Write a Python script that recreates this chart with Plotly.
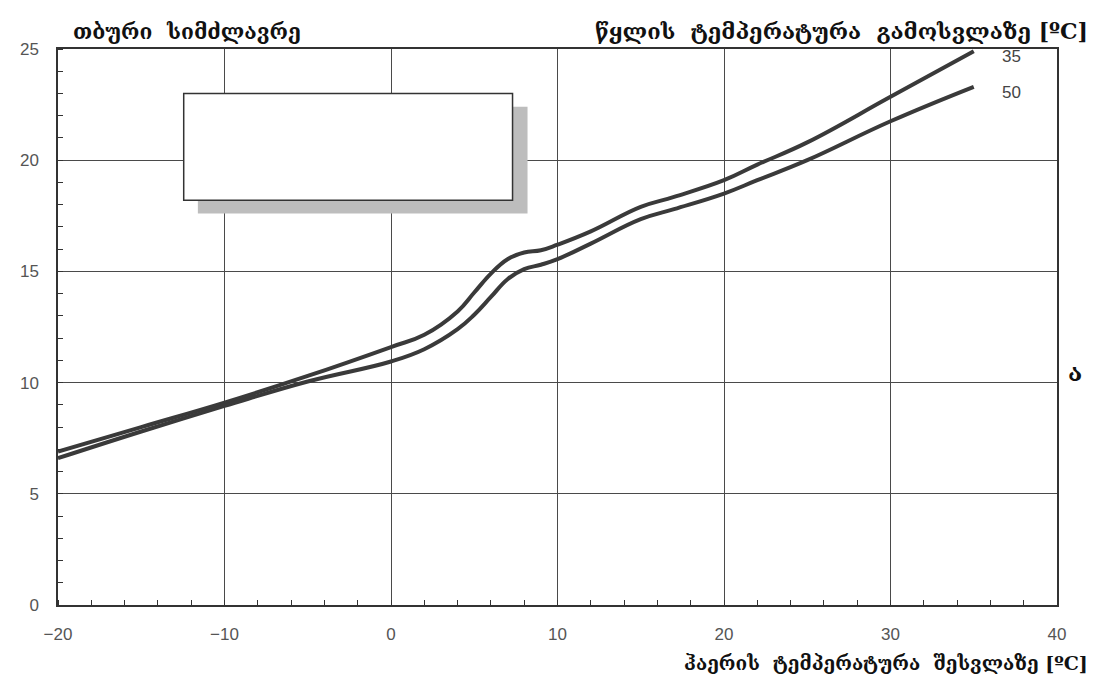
import plotly.graph_objects as go

# Air inlet temperature [°C]
x_35 = [-20, -15, -10, -5, 0, 2, 4, 5, 6, 7, 8, 9, 10, 12, 15, 17, 20, 22, 25, 30, 35]
y_35 = [6.9, 8.0, 9.1, 10.3, 11.6, 12.15, 13.2, 14.05, 14.9, 15.55, 15.85, 15.95, 16.2, 16.8, 17.9, 18.35, 19.1, 19.8, 20.8, 22.85, 24.9]

x_50 = [-20, -15, -10, -5, 0, 2, 4, 5, 6, 7, 8, 9, 10, 12, 15, 17, 20, 22, 25, 30, 35]
y_50 = [6.6, 7.8, 8.95, 10.05, 10.95, 11.5, 12.4, 13.05, 13.85, 14.65, 15.1, 15.3, 15.55, 16.25, 17.35, 17.8, 18.5, 19.1, 20.0, 21.75, 23.3]

series_labels = ["35", "50"]
x_ticks = [-20, -10, 0, 10, 20, 30, 40]
y_ticks = [0, 5, 10, 15, 20, 25]

title_left = "თბური&nbsp; სიმძლავრე"
title_right = "წყლის&nbsp; ტემპერატურა&nbsp; გამოსვლაზე [ºC]"
x_title = "ჰაერის&nbsp; ტემპერატურა&nbsp; შესვლაზე [ºC]"
side_label = "ა"

geo_font = "DejaVu Serif, DejaVu Sans, serif"
line_col = "#3a3a3a"

fig = go.Figure()
for xs, ys, name in [(x_35, y_35, series_labels[0]), (x_50, y_50, series_labels[1])]:
    fig.add_trace(go.Scatter(x=xs, y=ys, mode="lines", name=name,
                             line=dict(color=line_col, width=4, shape="spline", smoothing=1.2),
                             showlegend=False, hoverinfo="skip"))

# Series labels at line ends
fig.add_annotation(x=x_35[-1], y=y_35[-1], text=series_labels[0], showarrow=False,
                   xanchor="left", yanchor="middle", xshift=26, yshift=-5,
                   font=dict(family="Liberation Sans, Arial", size=17, color="#444"))
fig.add_annotation(x=x_50[-1], y=y_50[-1], text=series_labels[1], showarrow=False,
                   xanchor="left", yanchor="middle", xshift=26, yshift=-6,
                   font=dict(family="Liberation Sans, Arial", size=17, color="#444"))

# Empty box with shadow
fig.add_shape(type="rect", xref="x", yref="y", x0=-11.6, x1=8.2, y0=17.6, y1=22.4,
              fillcolor="#bdbdbd", line=dict(width=0), layer="above")
fig.add_shape(type="rect", xref="x", yref="y", x0=-12.45, x1=7.3, y0=18.2, y1=23.0,
              fillcolor="white", line=dict(color="#333", width=1.5), layer="above")

# Titles
fig.add_annotation(xref="paper", yref="paper", x=0.013, y=1.0, yshift=3, text="<b>" + title_left + "</b>",
                   showarrow=False, xanchor="left", yanchor="bottom",
                   font=dict(family=geo_font, size=21, color="#111"))
fig.add_annotation(xref="paper", yref="paper", x=1.0, y=1.0, xshift=33, yshift=3, text="<b>" + title_right + "</b>",
                   showarrow=False, xanchor="right", yanchor="bottom",
                   font=dict(family=geo_font, size=22, color="#111"))
fig.add_annotation(xref="paper", yref="paper", x=1.0, y=0.0, xshift=33, yshift=-45, text="<b>" + x_title + "</b>",
                   showarrow=False, xanchor="right", yanchor="top",
                   font=dict(family=geo_font, size=19, color="#111"))
fig.add_annotation(xref="paper", yref="paper", x=1.0, y=0.418, xshift=18, text="<b>" + side_label + "</b>",
                   showarrow=False, xanchor="center", yanchor="middle",
                   font=dict(family=geo_font, size=24, color="#111"))

fig.update_layout(
    width=1090, height=676,
    margin=dict(l=47, r=41, t=41, b=79),
    paper_bgcolor="white", plot_bgcolor="white",
    showlegend=False,
)
fig.update_xaxes(range=[-20, 40], tickvals=x_ticks, showgrid=True, gridcolor="#4a4a4a", gridwidth=1,
                 showline=True, linecolor="#333", linewidth=1.5, mirror=True, zeroline=False,
                 ticks="", ticklabelstandoff=13,
                 tickfont=dict(family="Liberation Sans, Arial", size=17, color="#555"),
                 minor=dict(dtick=2, ticks="inside", ticklen=5, tickcolor="#333", showgrid=False))
fig.update_yaxes(range=[0, 25], tickvals=y_ticks, showgrid=True, gridcolor="#4a4a4a", gridwidth=1,
                 showline=True, linecolor="#333", linewidth=1.5, mirror=True, zeroline=False,
                 ticks="", ticklabelstandoff=14,
                 tickfont=dict(family="Liberation Sans, Arial", size=17, color="#555"),
                 minor=dict(dtick=1, ticks="inside", ticklen=5, tickcolor="#333", showgrid=False))

fig.write_html("out.html")
